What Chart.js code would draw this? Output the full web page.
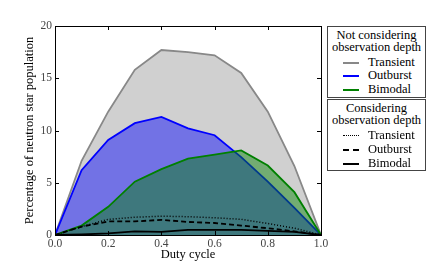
<!DOCTYPE html>
<html>
<head>
<meta charset="utf-8">
<script src="https://cdn.jsdelivr.net/npm/chart.js@4.4.0/dist/chart.umd.min.js"></script>
<style>
  html, body { margin: 0; padding: 0; background: #fff; }
  #wrap { position: relative; width: 436px; height: 262px; }
  .box {
    position: absolute; left: 327px; width: 99px; height: 72px;
    border: 1px solid #444; box-sizing: border-box; background: #fff;
    font-family: "Liberation Serif", "Times New Roman", serif; font-size: 12.5px; color: #000;
  }
  .ttl { text-align: center; line-height: 12px; margin-top: 2px; white-space: nowrap; }
  .row { position: absolute; left: 0; height: 12px; width: 100%; }
  .row .smp { position: absolute; left: 15px; width: 16px; top: 6px; }
  .row .lbl { position: absolute; left: 40px; top: 0; line-height: 12px; }
</style>
</head>
<body>
<div id="wrap">
  <canvas id="chart" width="436" height="262"></canvas>
  <div class="box" style="top:26px;">
    <div class="ttl">Not considering<br>observation depth</div>
    <div class="row" style="top:29px;"><span class="smp" style="border-top:2px solid #888;"></span><span class="lbl">Transient</span></div>
    <div class="row" style="top:42px;"><span class="smp" style="border-top:2px solid #0000ff;"></span><span class="lbl">Outburst</span></div>
    <div class="row" style="top:56px;"><span class="smp" style="border-top:2px solid #008000;"></span><span class="lbl">Bimodal</span></div>
  </div>
  <div class="box" style="top:99px;">
    <div class="ttl">Considering<br>observation depth</div>
    <div class="row" style="top:29px;"><span class="smp" style="border-top:1px dotted #000;"></span><span class="lbl">Transient</span></div>
    <div class="row" style="top:43px;"><span class="smp" style="border-top:2px dashed #000;"></span><span class="lbl">Outburst</span></div>
    <div class="row" style="top:57px;"><span class="smp" style="border-top:2px solid #000;"></span><span class="lbl">Bimodal</span></div>
  </div>
</div>
<script>
// duty cycle values (x axis)
const dutyCycle = [0.0, 0.1, 0.2, 0.3, 0.4, 0.5, 0.6, 0.7, 0.8, 0.9, 1.0];

// not considering observation depth
const transient = [0, 7.1, 11.8, 15.8, 17.7, 17.5, 17.2, 15.5, 11.8, 6.6, 0];
const outburst  = [0, 6.2, 9.1, 10.7, 11.3, 10.2, 9.55, 7.45, 5.1, 2.6, 0];
const bimodal   = [0, 0.9, 2.7, 5.1, 6.3, 7.3, 7.7, 8.1, 6.65, 4.1, 0];

// considering observation depth
const transientObs = [0, 0.8, 1.5, 1.7, 1.8, 1.75, 1.65, 1.5, 1.1, 0.65, 0];
const outburstObs  = [0, 0.8, 1.3, 1.3, 1.45, 1.25, 1.15, 0.9, 0.65, 0.35, 0];
const bimodalObs   = [0, 0.05, 0.15, 0.35, 0.3, 0.5, 0.5, 0.5, 0.4, 0.3, 0];

const xTicks = [0, 0.2, 0.4, 0.6, 0.8, 1.0];
const yTicks = [0, 5, 10, 15, 20];

const pts = (ys) => ys.map((y, i) => ({x: dutyCycle[i], y: y}));

// matplotlib style inward ticks + box around the plot
const frame = {
  id: "frame",
  afterDraw(chart) {
    const {ctx, chartArea: a, scales: {x, y}} = chart;
    ctx.save();
    ctx.strokeStyle = "#000";
    ctx.lineWidth = 1;
    ctx.beginPath();
    xTicks.forEach((v) => {
      const px = Math.round(x.getPixelForValue(v)) + 0.5;
      ctx.moveTo(px, a.bottom); ctx.lineTo(px, a.bottom - 4);
      ctx.moveTo(px, a.top); ctx.lineTo(px, a.top + 4);
    });
    yTicks.forEach((v) => {
      const py = Math.round(y.getPixelForValue(v)) + 0.5;
      ctx.moveTo(a.left, py); ctx.lineTo(a.left + 4, py);
      ctx.moveTo(a.right, py); ctx.lineTo(a.right - 4, py);
    });
    ctx.stroke();
    ctx.strokeRect(a.left + 0.5, a.top + 0.5, a.right - a.left, a.bottom - a.top);
    ctx.restore();
  },
};

const serif = "'Liberation Serif', serif";
const font = {family: serif, size: 11.5};

new Chart(document.getElementById("chart").getContext("2d"), {
  type: "line",
  data: {
    datasets: [
      {data: pts(transient), borderColor: "#888888", backgroundColor: "rgba(150,150,150,0.45)", fill: "origin", borderWidth: 1.8, order: 6},
      {data: pts(outburst), borderColor: "#0000ff", backgroundColor: "rgba(0,0,255,0.45)", fill: "origin", borderWidth: 1.8, order: 5},
      {data: pts(bimodal), borderColor: "#008000", backgroundColor: "rgba(0,128,0,0.45)", fill: "origin", borderWidth: 1.8, order: 4},
      {data: pts(transientObs), borderColor: "#000", borderDash: [1, 2], fill: false, borderWidth: 1.5, order: 3},
      {data: pts(outburstObs), borderColor: "#000", borderDash: [5, 3], fill: false, borderWidth: 1.8, order: 2},
      {data: pts(bimodalObs), borderColor: "#000", fill: false, borderWidth: 1.8, order: 1},
    ],
  },
  options: {
    responsive: false,
    animation: false,
    elements: {point: {radius: 0}, line: {tension: 0}},
    layout: {padding: {left: 22, right: 115, top: 26, bottom: 0}},
    plugins: {legend: {display: false}, tooltip: {enabled: false}},
    scales: {
      x: {
        type: "linear",
        min: 0,
        max: 1,
        afterFit: (s) => { s.height = 27; },
        afterBuildTicks: (s) => { s.ticks = xTicks.map((v) => ({value: v})); },
        grid: {display: false, drawTicks: false},
        border: {display: false},
        ticks: {font: font, color: "#444", padding: 2, maxRotation: 0, callback: (v) => v.toFixed(1)},
        title: {display: true, text: "Duty cycle", font: {family: serif, size: 12.5}, color: "#000", padding: {top: 0, bottom: 0}},
      },
      y: {
        min: 0,
        max: 20,
        afterFit: (s) => { s.width = 33; },
        afterBuildTicks: (s) => { s.ticks = yTicks.map((v) => ({value: v})); },
        grid: {display: false, drawTicks: false},
        border: {display: false},
        ticks: {font: font, color: "#444", padding: 3},
        title: {display: true, text: "Percentage of neutron star population", font: {family: serif, size: 12.5}, color: "#000", padding: {top: 0, bottom: 0}},
      },
    },
  },
  plugins: [frame],
});
</script>
</body>
</html>
